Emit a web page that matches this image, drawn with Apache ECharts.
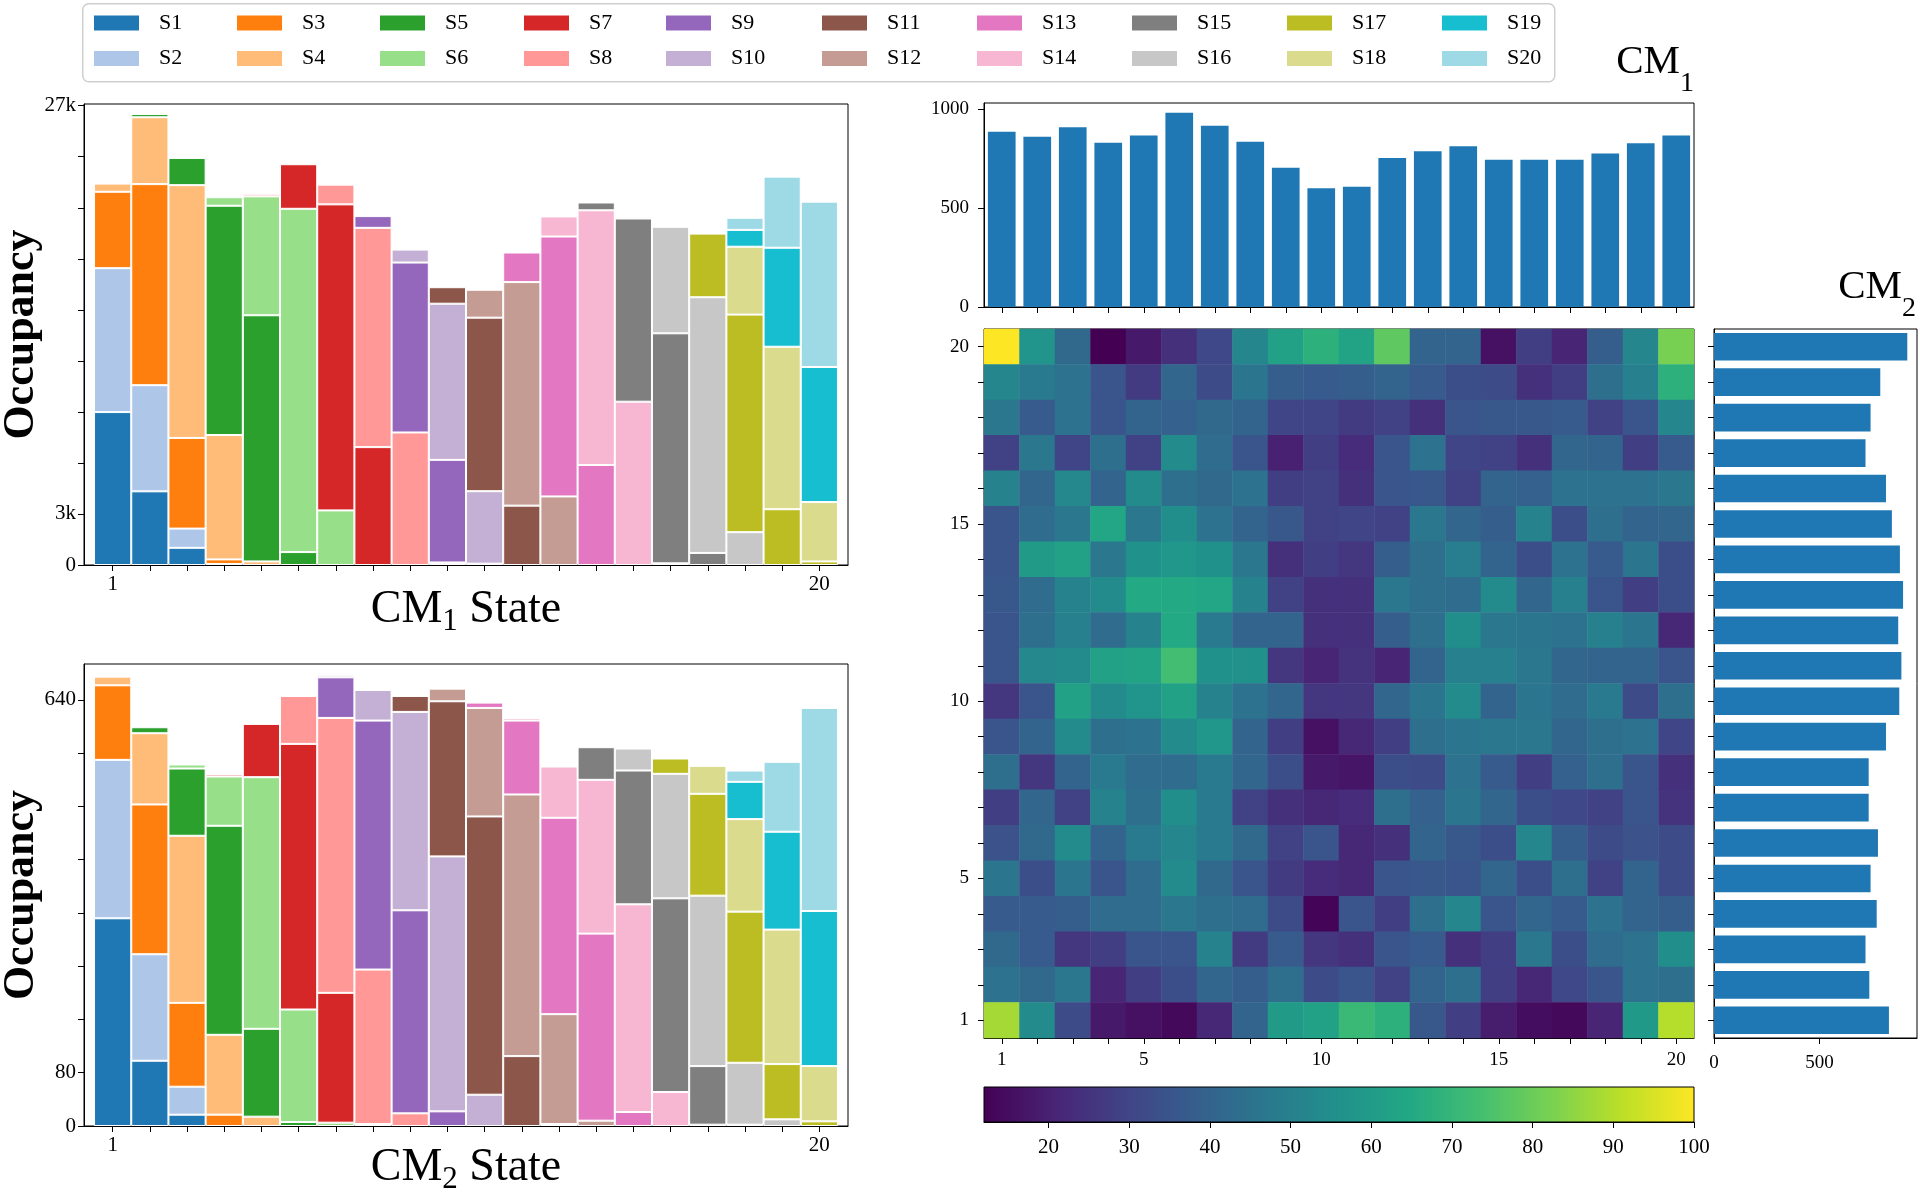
<!DOCTYPE html>
<html>
<head>
<meta charset="utf-8">
<script src="https://cdn.jsdelivr.net/npm/echarts@6/dist/echarts.min.js"></script>
<style>
  html, body { margin: 0; padding: 0; background: #fff; }
  #chart { width: 1920px; height: 1192px; }
</style>
</head>
<body>
<div id="chart"></div>
<script>
// states on both axes
const states = ['1', '2', '3', '4', '5', '6', '7', '8', '9', '10',
                '11', '12', '13', '14', '15', '16', '17', '18', '19', '20'];
const seriesNames = ['S1', 'S2', 'S3', 'S4', 'S5', 'S6', 'S7', 'S8', 'S9', 'S10',
                     'S11', 'S12', 'S13', 'S14', 'S15', 'S16', 'S17', 'S18', 'S19', 'S20'];
const tab20 = ['#1f77b4', '#aec7e8', '#ff7f0e', '#ffbb78', '#2ca02c', '#98df8a', '#d62728', '#ff9896',
               '#9467bd', '#c5b0d5', '#8c564b', '#c49c94', '#e377c2', '#f7b6d2', '#7f7f7f', '#c7c7c7',
               '#bcbd22', '#dbdb8d', '#17becf', '#9edae5'];
const viridis = ['#440154', '#482475', '#414487', '#355f8d', '#2a788e', '#21918c',
                 '#22a884', '#44bf70', '#7ad151', '#bddf26', '#fde725'];

// occupancy per CM1 state: [first S index, values of S(first), S(first+1), ...]
const cm1Stacks = [
  [1, [8990, 8460, 4490, 480]],
  [1, [4330, 6240, 11820, 3930, 190]],
  [1, [1010, 1130, 5330, 14860, 1600]],
  [2, [60, 270, 7310, 13480, 500]],
  [4, [210, 14470, 6990, 0, 150]],
  [5, [760, 20180, 2620]],
  [6, [3210, 17990, 1160]],
  [7, [6930, 12890, 690]],
  [8, [7790, 9990, 760]],
  [7, [80, 70, 6030, 9180, 970]],
  [9, [80, 4260, 10200, 1640]],
  [11, [3490, 13140, 1740]],
  [12, [4030, 15280, 1180]],
  [13, [5880, 14970, 460]],
  [14, [9600, 10770, 100]],
  [13, [100, 0, 13520, 6260]],
  [15, [710, 15030, 3740, 100]],
  [16, [1930, 12790, 3990, 990, 710]],
  [17, [3280, 9550, 5820, 4180]],
  [17, [210, 3490, 7940, 9720]]
];

// occupancy per CM2 state, same layout
const cm2Stacks = [
  [1, [312, 238, 112, 13]],
  [1, [98, 160, 225, 107, 9]],
  [1, [17, 42, 126, 251, 101, 6]],
  [3, [17, 120, 314, 74, 3]],
  [4, [14, 132, 378, 80]],
  [5, [6, 169, 399, 72]],
  [6, [5, 195, 413, 61, 3]],
  [7, [3, 232, 374, 46]],
  [8, [19, 305, 298, 24]],
  [9, [22, 383, 233, 19]],
  [10, [47, 418, 163, 8]],
  [11, [105, 393, 111, 4]],
  [11, [3, 165, 295, 77]],
  [12, [8, 281, 231, 49]],
  [13, [21, 312, 201, 33]],
  [14, [51, 291, 187, 23]],
  [14, [2, 88, 256, 153, 42]],
  [15, [2, 93, 227, 139, 56, 17]],
  [16, [10, 83, 202, 147, 105]],
  [17, [7, 83, 233, 305]]
];

const cm1Totals = [885, 859, 907, 829, 866, 981, 915, 834, 703, 600,
                   607, 752, 786, 812, 744, 744, 744, 775, 827, 866];
const cm2Totals = [829, 736, 718, 771, 742, 777, 733, 733, 815, 878,
                   888, 873, 896, 881, 843, 815, 718, 742, 788, 916];

// joint counts, CM2 row 20 first (top of picture), columns CM1 1..20
const jointRows = [
  [100, 57, 42, 12, 18, 24, 31, 52, 62, 68, 63, 78, 40, 40, 16, 28, 21, 38, 52, 82],
  [52, 48, 45, 35, 27, 41, 32, 46, 38, 37, 38, 40, 37, 33, 32, 24, 28, 44, 50, 68],
  [47, 37, 45, 35, 40, 39, 42, 40, 30, 30, 27, 29, 24, 35, 36, 36, 37, 29, 35, 52],
  [29, 47, 30, 44, 29, 54, 43, 35, 20, 28, 23, 35, 45, 30, 29, 24, 41, 40, 28, 37],
  [51, 41, 53, 40, 54, 44, 42, 45, 28, 29, 24, 35, 36, 29, 40, 39, 45, 45, 45, 47],
  [35, 43, 47, 64, 47, 55, 45, 40, 36, 29, 30, 29, 47, 41, 38, 51, 33, 44, 40, 41],
  [35, 60, 62, 47, 56, 58, 56, 47, 24, 28, 26, 38, 44, 49, 40, 33, 45, 37, 46, 33],
  [36, 43, 51, 54, 65, 65, 64, 51, 29, 24, 24, 47, 44, 43, 54, 41, 50, 35, 28, 33],
  [35, 44, 50, 43, 51, 65, 48, 40, 40, 24, 24, 38, 44, 55, 47, 46, 45, 50, 46, 22],
  [35, 53, 54, 62, 63, 73, 56, 56, 26, 21, 25, 21, 40, 50, 50, 47, 41, 40, 40, 35],
  [26, 35, 62, 54, 57, 62, 51, 45, 41, 26, 26, 41, 46, 54, 40, 46, 43, 48, 32, 44],
  [35, 40, 54, 44, 45, 54, 58, 40, 28, 16, 22, 28, 44, 46, 47, 47, 41, 44, 45, 30],
  [44, 26, 40, 48, 43, 43, 48, 41, 33, 18, 17, 33, 32, 45, 37, 28, 39, 44, 35, 24],
  [28, 41, 29, 51, 44, 55, 48, 29, 24, 22, 23, 44, 39, 46, 41, 33, 31, 29, 35, 25],
  [34, 42, 54, 40, 48, 52, 48, 42, 29, 35, 22, 24, 40, 36, 33, 52, 38, 32, 34, 32],
  [46, 33, 46, 35, 43, 54, 42, 35, 27, 23, 22, 35, 36, 35, 41, 33, 44, 29, 40, 32],
  [37, 37, 38, 43, 43, 47, 44, 43, 32, 13, 35, 28, 44, 52, 35, 41, 37, 45, 40, 38],
  [42, 37, 26, 28, 35, 35, 51, 27, 37, 26, 24, 35, 37, 24, 28, 47, 33, 43, 45, 55],
  [45, 42, 47, 21, 28, 33, 41, 38, 44, 32, 35, 29, 40, 44, 28, 22, 31, 35, 45, 44],
  [88, 54, 32, 18, 16, 14, 22, 40, 60, 62, 71, 68, 36, 28, 19, 15, 14, 21, 59, 90]
];

// ticks
const occ1Ticks = [0, 3000, 6000, 9000, 12000, 15000, 18000, 21000, 24000, 27000];
const occ1Labels = [0, 3000, 27000];
const occ2Ticks = [0, 80, 160, 240, 320, 400, 480, 560, 640];
const occ2Labels = [0, 80, 640];
const stateLabelIdx = [0, 4, 9, 14, 19];
const totalTicks = [0, 500, 1000];
const colorTicks = [20, 30, 40, 50, 60, 70, 80, 90, 100];

const serif = "'Liberation Serif', 'DejaVu Serif', serif";
const stateNums = states.map(Number);

const chart = echarts.init(document.getElementById('chart'));

function axisStyle(fontSize, margin) {
  return {
    axisLine: { show: true, onZero: false, lineStyle: { color: '#000', width: 1 } },
    axisTick: { show: true, length: 6, lineStyle: { color: '#000', width: 1 } },
    axisLabel: { color: '#000', fontFamily: serif, fontSize: fontSize, margin: margin,
                 formatter: (v) => String(v) },
    splitLine: { show: false }
  };
}

function valueAxis(gridIndex, min, max, ticks, labels, fontSize, margin, fmt) {
  const a = axisStyle(fontSize, margin);
  a.axisTick.customValues = ticks;
  a.axisLabel.customValues = labels;
  if (fmt) a.axisLabel.formatter = fmt;
  return Object.assign({ type: 'value', gridIndex: gridIndex, min: min, max: max }, a);
}

function categoryAxis(gridIndex, labelIdx, fontSize, margin) {
  const a = axisStyle(fontSize, margin);
  a.axisTick.alignWithLabel = true;
  a.axisTick.interval = 0;
  a.axisLabel.show = labelIdx.length > 0;
  a.axisLabel.interval = (i) => labelIdx.includes(i);
  return Object.assign({ type: 'category', gridIndex: gridIndex, data: states }, a);
}

const subRich = (big, small, lh) => ({
  m: { fontFamily: serif, fontSize: big, fontWeight: 'normal', lineHeight: lh, verticalAlign: 'top', color: '#000' },
  s: { fontFamily: serif, fontSize: small, fontWeight: 'normal', lineHeight: 28, verticalAlign: 'bottom', color: '#000' }
});

const occName = { fontFamily: serif, fontSize: 44, fontWeight: 'bold', color: '#000' };
const kFmt = (v) => (v >= 1000 ? (v / 1000) + 'k' : String(v));

// stacked panels: frame spans 0.23 .. 20.77 in state units, bars fill 0.5 .. 20.5
const xMin = 0.23, xMax = 20.77, frameLeft = 84, frameW = 764;
const unitPx = frameW / (xMax - xMin);
const innerLeft = frameLeft + (0.5 - xMin) * unitPx;
const innerW = states.length * unitPx;

function stackedSeries(stacks, axisIndex, stackName) {
  return seriesNames.map((name, k) => ({
    name: name,
    type: 'bar',
    stack: stackName,
    xAxisIndex: axisIndex,
    yAxisIndex: axisIndex,
    barCategoryGap: '0%',
    itemStyle: { color: tab20[k], borderColor: '#fff', borderWidth: 1 },
    emphasis: { disabled: true },
    data: stacks.map(([first, vals]) => {
      const v = vals[k - (first - 1)];
      return v ? v : '-';
    })
  }));
}

const heatData = [];
jointRows.forEach((row, r) => {
  row.forEach((v, c) => heatData.push([c, jointRows.length - 1 - r, v]));
});

const series = []
  .concat(stackedSeries(cm1Stacks, 6, 'cm1'))
  .concat(stackedSeries(cm2Stacks, 7, 'cm2'));

series.push({
  name: 'CM1 total', type: 'bar', xAxisIndex: 2, yAxisIndex: 2,
  barCategoryGap: '22%', itemStyle: { color: '#1f77b4' },
  emphasis: { disabled: true }, data: cm1Totals
});
const heatIndex = series.length;
series.push({
  name: 'Joint', type: 'heatmap', xAxisIndex: 3, yAxisIndex: 3,
  emphasis: { disabled: true }, progressive: 0, data: heatData
});
series.push({
  name: 'CM2 total', type: 'bar', xAxisIndex: 4, yAxisIndex: 4,
  barCategoryGap: '22%', itemStyle: { color: '#1f77b4' },
  emphasis: { disabled: true }, data: cm2Totals
});

const gridBase = { show: true, borderColor: '#000', borderWidth: 1, containLabel: false, outerBoundsMode: 'none' };
const innerBase = { show: false, containLabel: false, outerBoundsMode: 'none' };

const legendCols = [92, 235, 378, 522, 664, 820, 975, 1130, 1285, 1440];

const hidden = (gridIndex, extra) => Object.assign({ gridIndex: gridIndex, show: false }, extra);

const option = {
  animation: false,
  backgroundColor: '#fff',
  textStyle: { fontFamily: serif },
  title: [
    { text: '{m|CM}{s|1}', right: 226, top: 42, padding: 0, textStyle: { rich: subRich(41, 28, 56) } },
    { text: '{m|CM}{s|2}', right: 4, top: 267, padding: 0, textStyle: { rich: subRich(41, 28, 56) } }
  ],
  graphic: [{
    type: 'rect', left: 82, top: 3, z: -1, silent: true,
    shape: { width: 1472, height: 78, r: 6 },
    style: { fill: '#fff', stroke: '#cfcfcf', lineWidth: 1.5 }
  }],
  legend: legendCols.map((x, c) => ({
    left: x, top: 12, orient: 'vertical', padding: 0,
    itemWidth: 47, itemHeight: 17, itemGap: 13.5, icon: 'rect',
    selectedMode: false,
    data: [seriesNames[2 * c], seriesNames[2 * c + 1]],
    textStyle: { fontFamily: serif, fontSize: 22, color: '#000', padding: [0, 0, 0, 14] }
  })),
  grid: [
    Object.assign({ left: frameLeft, top: 104, width: frameW, height: 461 }, gridBase),
    Object.assign({ left: frameLeft, top: 664, width: frameW, height: 462 }, gridBase),
    Object.assign({ left: 984, top: 103, width: 710, height: 204 }, gridBase),
    Object.assign({ left: 984, top: 329, width: 710, height: 709 }, gridBase),
    Object.assign({ left: 1714, top: 329, width: 203, height: 709 }, gridBase),
    Object.assign({ left: 984, top: 1087, width: 710, height: 35 }, gridBase, {
      backgroundColor: {
        type: 'linear', x: 0, y: 0, x2: 1, y2: 0,
        colorStops: viridis.map((c, i) => ({ offset: i / (viridis.length - 1), color: c }))
      }
    }),
    Object.assign({ left: innerLeft, top: 104, width: innerW, height: 461 }, innerBase),
    Object.assign({ left: innerLeft, top: 664, width: innerW, height: 462 }, innerBase)
  ],
  xAxis: [
    Object.assign(valueAxis(0, xMin, xMax, stateNums, [1, 20], 21, 9), {
      name: '{m|CM}{s|1}{m| State}', nameLocation: 'middle', nameGap: 22, nameMoveOverlap: false,
      nameTextStyle: { rich: subRich(46, 31, 50) }
    }),
    Object.assign(valueAxis(1, xMin, xMax, stateNums, [1, 20], 21, 9), {
      name: '{m|CM}{s|2}{m| State}', nameLocation: 'middle', nameGap: 19, nameMoveOverlap: false,
      nameTextStyle: { rich: subRich(46, 31, 50) }
    }),
    categoryAxis(2, [], 19, 14),
    categoryAxis(3, stateLabelIdx, 19, 13),
    valueAxis(4, 0, 962, [0, 500], [0, 500], 19, 16),
    valueAxis(5, 12, 100, colorTicks, colorTicks, 21, 15),
    hidden(6, { type: 'category', data: states }),
    hidden(7, { type: 'category', data: states })
  ],
  yAxis: [
    Object.assign(valueAxis(0, 0, 27100, occ1Ticks, occ1Labels, 21, 8, kFmt), {
      name: 'Occupancy', nameLocation: 'middle', nameGap: 40, nameMoveOverlap: false, nameTextStyle: occName
    }),
    Object.assign(valueAxis(1, 0, 694, occ2Ticks, occ2Labels, 21, 8), {
      name: 'Occupancy', nameLocation: 'middle', nameGap: 40, nameMoveOverlap: false, nameTextStyle: occName
    }),
    valueAxis(2, 0, 1030, totalTicks, totalTicks, 19, 15),
    categoryAxis(3, stateLabelIdx, 19, 15),
    categoryAxis(4, [], 19, 14),
    { type: 'value', gridIndex: 5, min: 0, max: 1, show: false },
    hidden(6, { type: 'value', min: 0, max: 27100 }),
    hidden(7, { type: 'value', min: 0, max: 694 })
  ],
  visualMap: {
    type: 'continuous', show: false, min: 12, max: 100,
    seriesIndex: heatIndex, dimension: 2,
    inRange: { color: viridis }
  },
  series: series
};

chart.setOption(option);
</script>
</body>
</html>
